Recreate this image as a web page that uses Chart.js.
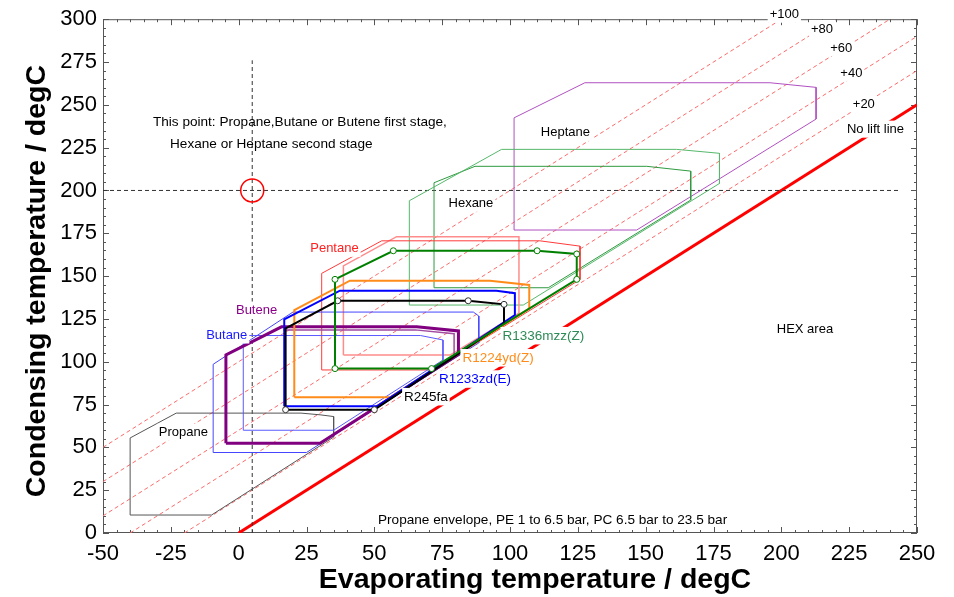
<!DOCTYPE html>
<html><head><meta charset="utf-8">
<script src="https://cdn.jsdelivr.net/npm/chart.js@4.4.0/dist/chart.umd.min.js"></script>
<style>html,body{margin:0;padding:0;background:#fff;}</style>
</head><body>
<canvas id="c" width="954" height="597"></canvas>
<script>
// ---------- axis ranges & ticks ----------
const evapRange = [-50, 250];
const condRange = [0, 300];
const majorStep = 25;
const minorStep = 5;
const xTitle = 'Evaporating temperature / degC';
const yTitle = 'Condensing temperature / degC';

// ---------- envelopes (evaporating temp, condensing temp) ----------
const propaneEvap = [-40, -23, 23, 30, 35, 35, -10, -40];
const propaneCond = [55.5, 70, 70, 69, 68, 56, 10.5, 10.5];

const butaneOuterEvap = [-9.4, -9.4, 20, 86.5, 88.5, 88.5, 25];
const butaneOuterCond = [47, 98.5, 129, 129, 126.7, 111, 47];
const butaneInnerEvap = [1.7, 1.7, 67, 75.3, 75.3, 35];
const butaneInnerCond = [60, 115.3, 115.3, 112.7, 101, 60];

const buteneEvap = [-4.7, -4.7, 15.8, 65.6, 81, 81, 30];
const buteneCond = [52.4, 104, 120.4, 120.4, 118, 104.3, 52.4];
const buteneInnerEvap = [16.5, 65, 79.4, 79.4];
const buteneInnerCond = [118.6, 118.6, 116.4, 104.5];

const r245faEvap = [17.3, 17.3, 36.5, 84.6, 97.8, 97.8, 50];
const r245faCond = [72, 119.5, 135.6, 135.6, 133.5, 122.4, 72];

const r1233zdEvap = [16.8, 16.8, 37.3, 95, 101.8, 101.8, 51];
const r1233zdCond = [74, 124.7, 141.5, 141.5, 140, 127.3, 74];

const r1224ydEvap = [20.5, 20.5, 41, 92.6, 107.1, 107.1, 55.8];
const r1224ydCond = [79.2, 130.2, 147.3, 147.3, 144.8, 131, 79.2];

const r1336mzzEvap = [35.5, 35.5, 57, 110, 124.6, 124.6, 71.1];
const r1336mzzCond = [96, 148.1, 164.8, 164.8, 162.9, 148.1, 96];

const pentaneAEvap = [30.6, 30.6, 52.7, 111, 125.8, 125.8, 71.7];
const pentaneACond = [95.2, 151.6, 170.6, 170.6, 167.5, 148, 95.2];
const pentaneBEvap = [38.6, 38.6, 58.2, 103.3, 103.3, 77.9];
const pentaneBCond = [103.9, 156, 173, 173, 128.3, 103.9];

const hexaneOuterEvap = [62.9, 62.9, 96.9, 161.4, 177.2, 177.2, 104.9];
const hexaneOuterCond = [133.1, 194, 224, 224, 221.7, 204.1, 133.1];
const hexaneInnerEvap = [72, 72, 87.1, 150.4, 166.6, 166.6, 114.1];
const hexaneInnerCond = [143.2, 204.5, 214.1, 214.1, 211.3, 194.4, 143.2];

const heptaneEvap = [101.5, 101.5, 127.6, 195.8, 212.8, 212.8, 146.7];
const heptaneCond = [176.9, 242.4, 262.9, 262.9, 260.2, 241.7, 176.9];

// ---------- lift lines (endpoints) ----------
const lift20Evap = [-20, 250],  lift20Cond = [0, 270];
const lift40Evap = [-40, 250],  lift40Cond = [0, 290];
const lift60Evap = [-50, 240],  lift60Cond = [10, 300];
const lift80Evap = [-50, 220],  lift80Cond = [30, 300];
const lift100Evap = [-50, 200], lift100Cond = [50, 300];
const noLiftEvap = [0, 250],    noLiftCond = [0, 250];

// ---------- design point & cross-hair ----------
const pointEvap = [5], pointCond = [200];
const vLineEvap = [5, 5],     vLineCond = [0, 276];
const hLineEvap = [-50, 244], hLineCond = [200, 200];

// marker vertex indices
const r245faMarked = [0, 2, 3, 4, 6];
const r1336mzzMarked = [0, 1, 2, 3, 4, 5, 6];

// ---------- helpers ----------
function pts(xs, ys, close) {
  const a = xs.map((x, i) => ({x: x, y: ys[i]}));
  if (close) a.push({x: xs[0], y: ys[0]});
  return a;
}
function poly(label, xs, ys, color, width, close, extra) {
  return Object.assign({
    label: label, data: pts(xs, ys, close !== false), showLine: true,
    borderColor: color, backgroundColor: color, borderWidth: width,
    pointRadius: 0, fill: false, tension: 0
  }, extra || {});
}
function markers(idx, stroke) {
  return {
    pointRadius: ctx => idx.includes(ctx.dataIndex) ? 3 : 0,
    pointBackgroundColor: '#ffffff', pointBorderColor: stroke, pointBorderWidth: 1
  };
}
const liftStyle = {borderDash: [4, 3]};
const liftColor = '#ff6a6a';

const datasets = [
  poly('R1336mzz(Z)', r1336mzzEvap, r1336mzzCond, '#008000', 2, true, markers(r1336mzzMarked, '#008000')),
  poly('R245fa', r245faEvap, r245faCond, '#000000', 2, true, markers(r245faMarked, '#333333')),
  poly('R1233zd(E)', r1233zdEvap, r1233zdCond, '#0000ff', 2),
  poly('R1224yd(Z)', r1224ydEvap, r1224ydCond, '#ff8c1a', 2),
  poly('Butene', buteneEvap, buteneCond, '#800080', 3),
  poly('Butene inner', buteneInnerEvap, buteneInnerCond, '#a04aa0', 1.5, false),
  poly('Butane outer', butaneOuterEvap, butaneOuterCond, '#4646ff', 1),
  poly('Butane inner', butaneInnerEvap, butaneInnerCond, '#5a5aff', 1),
  poly('Propane', propaneEvap, propaneCond, '#555555', 1),
  poly('Pentane A', pentaneAEvap, pentaneACond, '#ff3a3a', 1),
  poly('Pentane B', pentaneBEvap, pentaneBCond, '#ff8c8c', 1.5),
  poly('Hexane outer', hexaneOuterEvap, hexaneOuterCond, '#55b86a', 1),
  poly('Hexane inner', hexaneInnerEvap, hexaneInnerCond, '#2f9a40', 1),
  poly('Heptane', heptaneEvap, heptaneCond, '#b050c0', 1),
  {label: 'point', data: pts(pointEvap, pointCond, false), showLine: false,
   pointRadius: 11.5, pointBorderColor: '#ff0000', pointBackgroundColor: 'rgba(0,0,0,0)', pointBorderWidth: 1.5},
  poly('vline', vLineEvap, vLineCond, '#333333', 1, false, {borderDash: [4, 3]}),
  poly('hline', hLineEvap, hLineCond, '#333333', 1, false, {borderDash: [4, 3]}),
  poly('No lift', noLiftEvap, noLiftCond, '#ff0000', 3, false),
  poly('+20', lift20Evap, lift20Cond, liftColor, 1, false, liftStyle),
  poly('+40', lift40Evap, lift40Cond, liftColor, 1, false, liftStyle),
  poly('+60', lift60Evap, lift60Cond, liftColor, 1, false, liftStyle),
  poly('+80', lift80Evap, lift80Cond, liftColor, 1, false, liftStyle),
  poly('+100', lift100Evap, lift100Cond, liftColor, 1, false, liftStyle)
];

// ---------- text annotations (data coordinates) ----------
const FONT = "'Liberation Sans', Arial, sans-serif";
const notes = [
  {t: 'Propane', x: -20.4, y: 58.8, c: '#000', s: 13, bg: true},
  {t: 'Butane', x: -4.4, y: 115.6, c: '#1a1aff', s: 13, bg: true},
  {t: 'Butene', x: 6.6, y: 130.2, c: '#8b008b', s: 13, bg: true},
  {t: 'Pentane', x: 35.3, y: 166.2, c: '#ff2020', s: 13, bg: true},
  {t: 'Hexane', x: 85.6, y: 192.5, c: '#000', s: 13, bg: true},
  {t: 'Heptane', x: 120.4, y: 233.9, c: '#000', s: 13, bg: true},
  {t: 'R1336mzz(Z)', x: 112.3, y: 115.2, c: '#2e8b57', s: 13.5, bg: true},
  {t: 'R1224yd(Z)', x: 95.6, y: 102.3, c: '#ff8c1a', s: 13.5, bg: true},
  {t: 'R1233zd(E)', x: 87.1, y: 89.9, c: '#0000ff', s: 13.5, bg: true},
  {t: 'R245fa', x: 69, y: 79.6, c: '#000', s: 13.5, bg: true},
  {t: 'HEX area', x: 208.7, y: 118.9, c: '#000', s: 13, bg: false},
  {t: '+100', x: 201.1, y: 302.9, c: '#000', s: 13, bg: true},
  {t: '+80', x: 215, y: 294.6, c: '#000', s: 13, bg: true},
  {t: '+60', x: 222.1, y: 283.5, c: '#000', s: 13, bg: true},
  {t: '+40', x: 225.8, y: 268.9, c: '#000', s: 13, bg: true},
  {t: '+20', x: 230.4, y: 250.3, c: '#000', s: 13, bg: true},
  {t: 'No lift line', x: 234.7, y: 235.8, c: '#000', s: 13, bg: true},
  {t: 'This point: Propane,Butane or Butene first stage,', x: -31.6, y: 240, c: '#000', s: 13.6, bg: false, a: 'left'},
  {t: 'Hexane or Heptane second stage', x: -25.3, y: 227.5, c: '#000', s: 13.6, bg: false, a: 'left'},
  {t: 'Propane envelope, PE 1 to 6.5 bar, PC 6.5 bar to 23.5 bar', x: 115.7, y: 8, c: '#000', s: 13.6, bg: false}
];

const framePlugin = {
  id: 'frame',
  beforeDatasetsDraw(chart) {
    const {ctx, chartArea: a, scales: {x, y}} = chart;
    ctx.save();
    ctx.strokeStyle = '#555'; ctx.lineWidth = 1;
    ctx.strokeRect(a.left + 0.5, a.top + 0.5, a.right - a.left - 1, a.bottom - a.top - 1);
    ctx.beginPath();
    for (let v = evapRange[0]; v <= evapRange[1]; v += minorStep) {
      const px = Math.round(x.getPixelForValue(v)) + 0.5;
      const L = (v % majorStep === 0) ? 6 : 3;
      ctx.moveTo(px, a.bottom); ctx.lineTo(px, a.bottom - L);
      ctx.moveTo(px, a.top); ctx.lineTo(px, a.top + L);
    }
    for (let v = condRange[0]; v <= condRange[1]; v += minorStep) {
      const py = Math.round(y.getPixelForValue(v)) + 0.5;
      const L = (v % majorStep === 0) ? 6 : 3;
      ctx.moveTo(a.left, py); ctx.lineTo(a.left + L, py);
      ctx.moveTo(a.right, py); ctx.lineTo(a.right - L, py);
    }
    ctx.stroke();
    // axis titles
    ctx.fillStyle = '#000';
    ctx.font = 'bold 28.5px ' + FONT;
    ctx.textAlign = 'center'; ctx.textBaseline = 'middle';
    const cx = (a.left + a.right) / 2 + 25;
    ctx.fillText(xTitle, cx, a.bottom + 47);
    ctx.translate(37, (a.top + a.bottom) / 2 + 5);
    ctx.rotate(-Math.PI / 2);
    ctx.fillText(yTitle, 0, 0);
    ctx.restore();
  }
};

const notesPlugin = {
  id: 'notes',
  afterDatasetsDraw(chart) {
    const {ctx, scales: {x, y}} = chart;
    ctx.save();
    notes.forEach(n => {
      ctx.font = n.s + 'px ' + FONT;
      const w = ctx.measureText(n.t).width;
      const px = x.getPixelForValue(n.x), py = y.getPixelForValue(n.y);
      const left = n.a === 'left' ? px : px - w / 2;
      if (n.bg) {
        ctx.fillStyle = '#ffffff';
        ctx.fillRect(left - 2, py - n.s / 2 - 2, w + 4, n.s + 4);
      }
      ctx.fillStyle = n.c;
      ctx.textBaseline = 'middle';
      ctx.textAlign = 'left';
      ctx.fillText(n.t, left, py + 0.5);
    });
    ctx.restore();
  }
};

new Chart(document.getElementById('c'), {
  type: 'scatter',
  data: {datasets: datasets},
  options: {
    responsive: false, animation: false, devicePixelRatio: 1,
    layout: {padding: {top: 19, right: 37, left: 0, bottom: 0}},
    plugins: {legend: {display: false}, tooltip: {enabled: false}},
    scales: {
      x: {
        type: 'linear', min: evapRange[0], max: evapRange[1],
        ticks: {stepSize: majorStep, color: '#000', padding: 8, maxRotation: 0, autoSkip: false,
                font: {family: FONT, size: 22}},
        grid: {display: false, drawTicks: false}, border: {display: false},
        title: {display: false},
        afterFit: s => { s.height = 64; }
      },
      y: {
        type: 'linear', min: condRange[0], max: condRange[1],
        ticks: {stepSize: majorStep, color: '#000', padding: 6, font: {family: FONT, size: 22}},
        grid: {display: false, drawTicks: false}, border: {display: false},
        title: {display: false},
        afterFit: s => { s.width = 103; }
      }
    }
  },
  plugins: [framePlugin, notesPlugin]
});
</script>
</body></html>
